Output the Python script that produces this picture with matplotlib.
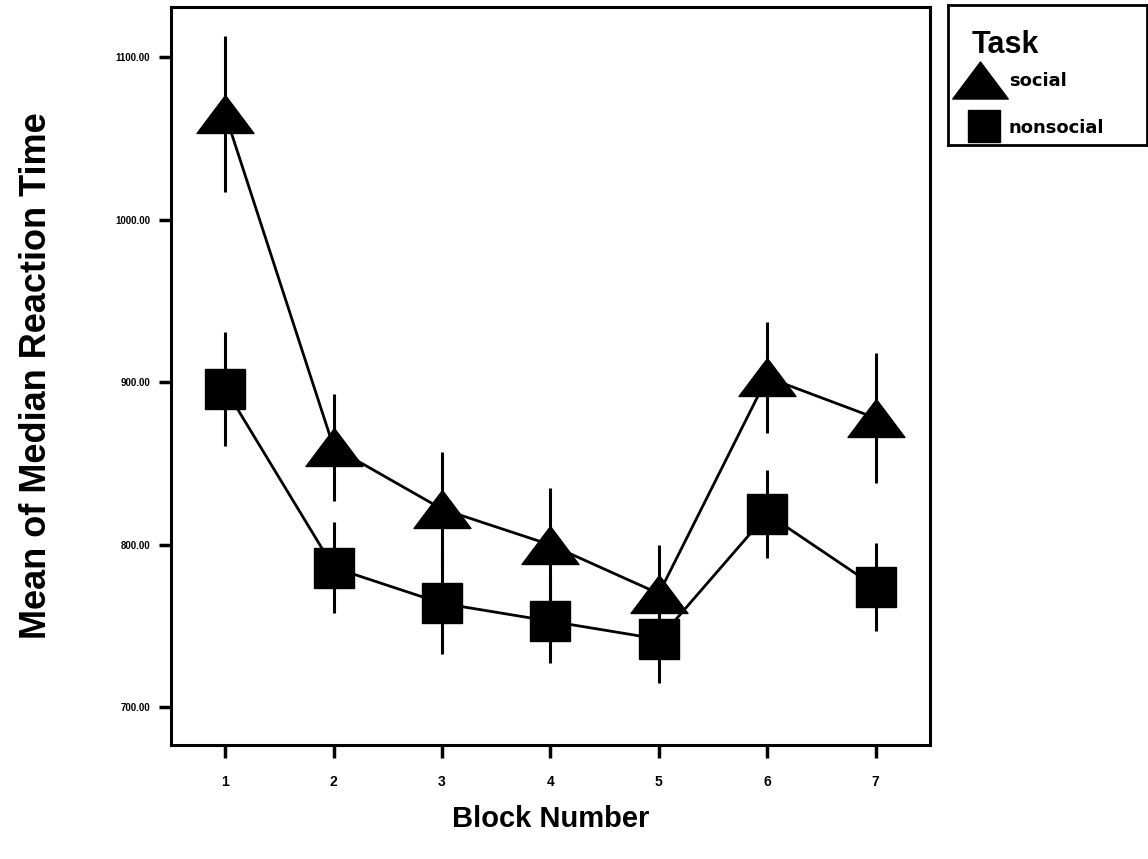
import numpy as np
import matplotlib.pyplot as plt
from matplotlib.path import Path

plt.rcParams['font.family'] = ['Liberation Sans', 'DejaVu Sans']

# Data
blocks = [1, 2, 3, 4, 5, 6, 7]
social_mean = [1065, 860, 822, 800, 770, 903, 878]
social_err = [48, 33, 35, 35, 30, 34, 40]
nonsocial_mean = [896, 786, 764, 753, 742, 819, 774]
nonsocial_err = [35, 28, 31, 26, 27, 27, 27]
yticks = [700, 800, 900, 1000, 1100]
task_labels = ['social', 'nonsocial']

# wide, flat triangle like the original SPSS marker
tri = Path([(-1.5, -1), (1.5, -1), (0, 1), (-1.5, -1)],
           [Path.MOVETO, Path.LINETO, Path.LINETO, Path.CLOSEPOLY])

fig = plt.figure(figsize=(11.48, 8.59), dpi=100)
ax = fig.add_axes([0.149, 0.133, 0.661, 0.859])

ax.errorbar(blocks, social_mean, yerr=social_err, fmt='none', ecolor='black',
            elinewidth=2.2, capsize=0, zorder=2)
ax.plot(blocks, social_mean, color='black', lw=2, marker=tri, ms=41,
        mfc='black', mec='black', zorder=3)
ax.errorbar(blocks, nonsocial_mean, yerr=nonsocial_err, fmt='none', ecolor='black',
            elinewidth=2.2, capsize=0, zorder=4)
ax.plot(blocks, nonsocial_mean, color='black', lw=2, marker='s', ms=29,
        mfc='black', mec='black', zorder=5)

ax.set_xlim(0.5, 7.5)
ax.set_ylim(677, 1131)
ax.set_xticks(blocks)
ax.set_xticklabels([str(b) for b in blocks], fontsize=10, fontweight='bold')
ax.set_yticks(yticks)
ax.set_yticklabels(['%.2f' % v for v in yticks], fontsize=7, fontweight='bold')
ax.tick_params(axis='both', direction='out', length=9, width=2.5)
ax.tick_params(axis='x', pad=13)
ax.tick_params(axis='y', pad=6)
for s in ax.spines.values():
    s.set_linewidth(2.2)

ax.set_xlabel('Block Number', fontsize=21, fontweight='bold', labelpad=11)
ax.set_ylabel('Mean of Median Reaction Time', fontsize=26, fontweight='bold', labelpad=44)

# legend box drawn by hand on its own small axes (pixel-like units)
lax = fig.add_axes([948 / 1148, 1 - 145 / 859, 199 / 1148, 140 / 859])
lax.set_xlim(0, 199)
lax.set_ylim(140, 0)
lax.set_xticks([])
lax.set_yticks([])
for s in lax.spines.values():
    s.set_linewidth(2)
lax.text(24, 40, 'Task', fontsize=22, fontweight='bold', va='center', ha='left')
lax.plot([32], [75], ls='none', marker=tri, ms=40, color='black', clip_on=False)
lax.plot([35.5], [121], ls='none', marker='s', ms=23, color='black', clip_on=False)
lax.text(61, 76, task_labels[0], fontsize=13, fontweight='bold', va='center',
         ha='left', family='DejaVu Sans')
lax.text(60, 123, task_labels[1], fontsize=13, fontweight='bold', va='center',
         ha='left', family='DejaVu Sans')

fig.savefig('out.png', dpi=100)
